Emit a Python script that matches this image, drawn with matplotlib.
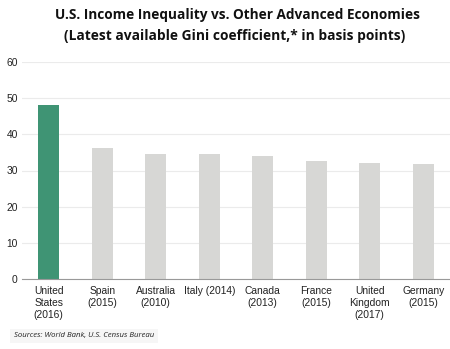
import matplotlib
matplotlib.use("Agg")
import matplotlib.pyplot as plt

categories = ["United\nStates\n(2016)", "Spain\n(2015)", "Australia\n(2010)", "Italy (2014)",
              "Canada\n(2013)", "France\n(2015)", "United\nKingdom\n(2017)", "Germany\n(2015)"]
values = [48.1, 36.2, 34.7, 34.7, 34.0, 32.7, 32.2, 31.7]
yticks = [0, 10, 20, 30, 40, 50, 60]

green = "#3f9474"
gray = "#d7d7d5"
colors = [green] + [gray] * (len(values) - 1)

fig = plt.figure(figsize=(4.5, 3.49), dpi=100)
ax = fig.add_axes([22/450, 1 - 279/349, 428/450, (279 - 62)/349])

x = list(range(len(values)))
ax.bar(x, values, width=0.4, color=colors, zorder=3)
ax.set_xlim(-0.5, len(values) - 0.5)
ax.set_ylim(0, 60)
ax.set_yticks(yticks)
ax.set_xticks(x)
ax.set_xticklabels(categories, fontfamily="Liberation Sans", fontsize=7.4, color="#222222",
                   linespacing=1.25, va="top")
for lbl in ax.get_yticklabels():
    lbl.set_fontfamily("Liberation Sans")
    lbl.set_fontsize(7.4)
    lbl.set_color("#222222")
ax.tick_params(axis="both", length=0)
ax.tick_params(axis="x", pad=5)
ax.tick_params(axis="y", pad=3)
ax.yaxis.grid(True, color="#ebebeb", linewidth=0.8, zorder=0)
for s in ["top", "right", "left"]:
    ax.spines[s].set_visible(False)
ax.spines["bottom"].set_color("#999999")
ax.spines["bottom"].set_linewidth(0.8)
ax.spines["bottom"].set_zorder(4)

fig.text(0.527, 1 - 15/349, "U.S. Income Inequality vs. Other Advanced Economies",
         ha="center", va="center", fontfamily="Open Sans", fontweight="bold", fontsize=9.8, color="#111111")
fig.text(0.522, 1 - 36/349, "(Latest available Gini coefficient,* in basis points)",
         ha="center", va="center", fontfamily="Open Sans", fontweight="bold", fontsize=9.9, color="#111111")
fig.text(14/450, 1 - 336/349, "Sources: World Bank, U.S. Census Bureau",
         ha="left", va="center", fontfamily="Open Sans", fontstyle="italic", fontsize=5.6, color="#222222",
         bbox=dict(boxstyle="square,pad=0.5", facecolor="#f6f6f6", edgecolor="none"))

fig.savefig("out.png", dpi=100)
